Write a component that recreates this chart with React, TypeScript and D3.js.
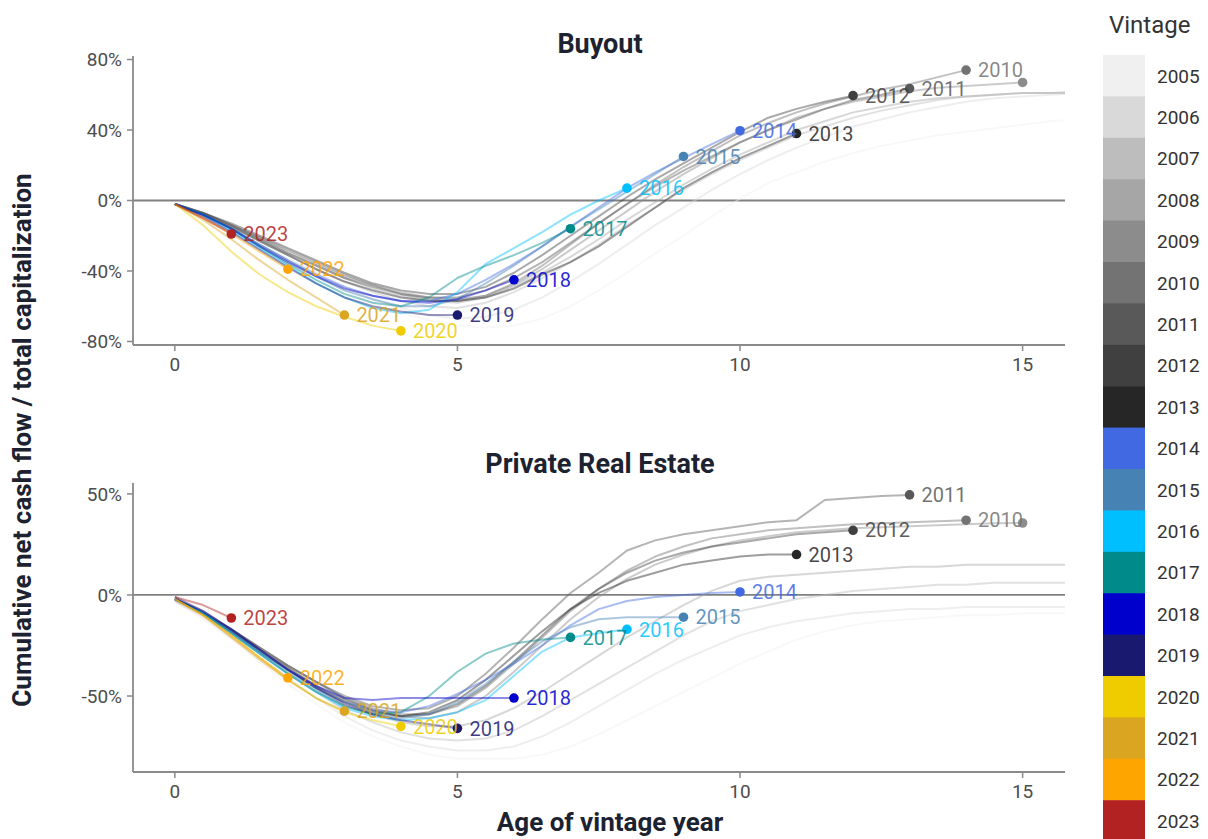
import React from "react";
import * as d3 from "d3";

// ---------- data ----------
const vintages = [2005, 2006, 2007, 2008, 2009, 2010, 2011, 2012, 2013, 2014, 2015, 2016, 2017, 2018, 2019, 2020, 2021, 2022, 2023];
const vintageColors = [
  "#f0f0f0", "#d9d9d9", "#bdbdbd", "#a6a6a6", "#8c8c8c", "#737373", "#595959", "#404040", "#262626",
  "#4169e1", "#4682b4", "#00bfff", "#008b8b", "#0000cd", "#191970", "#eecc00", "#daa520", "#ffa500", "#b22222",
];
const labeledVintages = [2010, 2011, 2012, 2013, 2014, 2015, 2016, 2017, 2018, 2019, 2020, 2021, 2022, 2023];
// sample ages (years since vintage), half-year steps
const ages = [0, 0.5, 1, 1.5, 2, 2.5, 3, 3.5, 4, 4.5, 5, 5.5, 6, 6.5, 7, 7.5, 8, 8.5, 9, 9.5, 10, 10.5, 11, 11.5, 12, 12.5, 13, 13.5, 14, 14.5, 15, 15.5, 16];
const xTicks = [0, 5, 10, 15];
const buyoutYTicks = [80, 40, 0, -40, -80];
const realEstateYTicks = [50, 0, -50];

// Buyout: cumulative net cash flow / total capitalization (%)
const bo2005 = [-2, -9, -17, -26, -35, -43, -51, -58, -64, -68, -71, -72, -71, -67, -60, -51, -41, -30, -20, -9, 1, 10, 16, 22, 27, 31, 34, 37, 39, 41, 43, 45, 46];
const bo2006 = [-2, -8, -16, -25, -33, -41, -49, -56, -61, -65, -67, -66, -62, -55, -46, -36, -25, -14, -4, 6, 15, 23, 30, 36, 42, 46, 50, 53, 56, 58, 59, 60, 61];
const bo2007 = [-2, -8, -15, -23, -31, -39, -46, -52, -57, -60, -61, -58, -52, -44, -35, -25, -14, -4, 6, 15, 23, 30, 37, 42, 47, 51, 54, 57, 59, 60, 61, 61, 62];
const bo2008 = [-2, -7, -14, -22, -30, -37, -44, -50, -54, -57, -58, -55, -49, -41, -32, -22, -11, -1, 9, 18, 26, 33, 40, 45, 50, 53, 56, 58, 59, 60, 61, 61, 61];
const bo2009 = [-2, -7, -14, -21, -29, -36, -43, -48, -52, -55, -56, -54, -48, -39, -28, -17, -6, 5, 15, 24, 33, 40, 47, 52, 56, 59, 62, 64, 65, 66, 67];
const bo2010 = [-2, -7, -14, -21, -28, -35, -42, -48, -53, -56, -57, -54, -47, -37, -25, -13, -2, 9, 19, 28, 37, 44, 50, 55, 59, 63, 66, 70, 74];
const bo2011 = [-2, -7, -14, -22, -30, -37, -44, -49, -53, -55, -55, -51, -44, -35, -24, -13, -2, 8, 17, 25, 33, 40, 46, 52, 57, 60, 63.5];
const bo2012 = [-2, -7, -13, -20, -27, -34, -41, -47, -51, -53, -53, -49, -41, -31, -20, -9, 2, 12, 21, 30, 39, 47, 52, 56, 59.5];
const bo2013 = [-2, -8, -15, -23, -31, -39, -46, -51, -55, -57, -57, -55, -50, -42, -35, -26, -15, -4, 7, 16, 24, 31, 38];
const bo2014 = [-2, -8, -16, -25, -34, -42, -49, -54, -57, -57, -53, -45, -36, -26, -15, -4, 7, 16, 24, 32, 39.6];
const bo2015 = [-2, -8, -16, -25, -34, -43, -51, -56, -60, -60, -56, -47, -37, -26, -15, -5, 5, 15, 25];
const bo2016 = [-2, -8, -17, -27, -37, -47, -55, -61, -64, -62, -52, -36, -27, -18, -8, 0, 7];
const bo2017 = [-2, -8, -16, -26, -36, -45, -53, -58, -60, -55, -44, -37, -31, -24, -16];
const bo2018 = [-2, -8, -16, -26, -35, -43, -50, -54, -57, -58, -56, -51, -45];
const bo2019 = [-2, -9, -18, -28, -38, -47, -55, -60, -63, -65, -65];
const bo2020 = [-2, -14, -29, -42, -52, -60, -66, -71, -74];
const bo2021 = [-2, -11, -22, -34, -45, -55, -65];
const bo2022 = [-2, -10, -19, -29, -39];
const bo2023 = [-2, -10, -19];
const buyoutValues = [bo2005, bo2006, bo2007, bo2008, bo2009, bo2010, bo2011, bo2012, bo2013, bo2014, bo2015, bo2016, bo2017, bo2018, bo2019, bo2020, bo2021, bo2022, bo2023];

// Private Real Estate
const re2005 = [-3, -12, -22, -33, -44, -54, -63, -70, -75, -79, -81, -81, -81, -79, -75, -69, -62, -55, -48, -41, -34, -28, -22, -18, -15, -13, -12, -11, -10, -10, -9, -9, -9];
const re2006 = [-3, -11, -21, -31, -41, -51, -60, -67, -72, -75, -77, -77, -75, -70, -63, -55, -47, -39, -32, -26, -20, -16, -13, -11, -9, -8, -7, -7, -6, -6, -6, -6, -6];
const re2007 = [-3, -10, -19, -29, -39, -48, -57, -63, -68, -71, -72, -71, -67, -60, -52, -44, -36, -28, -20, -13, -8, -5, -2, 0, 2, 3, 4, 5, 5, 6, 6, 6, 6];
const re2008 = [-2, -9, -18, -27, -36, -45, -53, -59, -63, -65, -65, -62, -56, -48, -39, -30, -21, -13, -5, 2, 7, 9, 10, 11, 12, 13, 14, 14, 15, 15, 15, 15, 15];
const re2009 = [-2, -9, -17, -26, -35, -43, -51, -57, -60, -61, -58, -50, -38, -25, -12, -1, 8, 15, 20, 24, 27, 29, 31, 32, 33, 33.5, 34, 34.5, 35, 35.5, 35.6];
const re2010 = [-2, -9, -17, -26, -35, -43, -51, -56, -59, -59, -55, -46, -34, -21, -8, 3, 12, 19, 24, 28, 30, 32, 33, 34, 35, 35.5, 36, 36.5, 37];
const re2011 = [-2, -9, -17, -26, -35, -43, -50, -55, -57, -56, -50, -39, -26, -12, 1, 11, 22, 27, 30, 32, 34, 36, 37, 47, 48, 49, 49.5];
const re2012 = [-2, -9, -18, -27, -36, -45, -52, -57, -60, -59, -54, -45, -33, -20, -7, 3, 11, 17, 21, 24, 26, 28, 30, 31, 32];
const re2013 = [-2, -9, -18, -28, -37, -46, -53, -58, -60, -58, -52, -42, -30, -18, -7, 1, 7, 11, 15, 17, 19, 20, 20];
const re2014 = [-2, -9, -18, -28, -37, -46, -53, -57, -58, -55, -49, -42, -34, -25, -15, -7, -3, -1, 0, 1, 1.5];
const re2015 = [-2, -9, -18, -28, -38, -47, -55, -59, -61, -59, -53, -44, -33, -23, -16, -12, -11, -11, -11];
const re2016 = [-2, -9, -19, -29, -39, -48, -56, -60, -62, -61, -58, -52, -40, -28, -21, -19, -17];
const re2017 = [-2, -9, -19, -29, -39, -48, -55, -59, -58, -50, -38, -29, -24, -22, -21];
const re2018 = [-2, -8, -17, -27, -37, -45, -51, -52, -51, -51, -51, -51, -51];
const re2019 = [-1, -8, -17, -27, -37, -46, -54, -59, -62, -64, -66];
const re2020 = [-2, -10, -20, -31, -42, -51, -58, -62, -65];
const re2021 = [-2, -10, -21, -32, -42, -51, -57.5];
const re2022 = [-2, -10, -20, -31, -41];
const re2023 = [-1, -5, -11.4];
const realEstateValues = [re2005, re2006, re2007, re2008, re2009, re2010, re2011, re2012, re2013, re2014, re2015, re2016, re2017, re2018, re2019, re2020, re2021, re2022, re2023];

// ---------- layout ----------
const W = 1208;
const H = 839;
const PLOT_LEFT = 133;
const PLOT_RIGHT = 1065;
const X_DOMAIN: [number, number] = [-0.74, 15.75];
const FONT = "Roboto, 'Noto Sans', Arial, sans-serif";
const TITLE_COLOR = "#1d2230";
const AXIS_COLOR = "#8a8a8a";
const TICK_TEXT = "#4d4d4d";

const xScale = d3.scaleLinear().domain(X_DOMAIN).range([PLOT_LEFT, PLOT_RIGHT]);

type PanelProps = {
  id: string;
  title: string;
  titleY: number;
  top: number;
  bottom: number;
  yDomain: [number, number];
  yTicks: number[];
  values: number[][];
};

function Panel({ id, title, titleY, top, bottom, yDomain, yTicks, values }: PanelProps) {
  const y = d3.scaleLinear().domain(yDomain).range([bottom, top]);
  const line = d3
    .line<number>()
    .x((_, i) => xScale(ages[i]))
    .y((d) => y(d));
  const clipId = `clip-${id}`;
  const maxX = X_DOMAIN[1];

  return (
    <g>
      <defs>
        <clipPath id={clipId}>
          <rect x={PLOT_LEFT} y={top - 10} width={PLOT_RIGHT - PLOT_LEFT} height={bottom - top + 10} />
        </clipPath>
      </defs>
      <text x={600} y={titleY} textAnchor="middle" fontFamily={FONT} fontWeight={700} fontSize={27} fill={TITLE_COLOR}>
        {title}
      </text>
      {/* zero line */}
      <line x1={PLOT_LEFT} x2={PLOT_RIGHT} y1={y(0)} y2={y(0)} stroke="#808080" strokeWidth={1.8} />
      {/* axes */}
      <line x1={PLOT_LEFT} x2={PLOT_LEFT} y1={top} y2={bottom} stroke={AXIS_COLOR} strokeWidth={1.8} />
      <line x1={PLOT_LEFT} x2={PLOT_RIGHT} y1={bottom} y2={bottom} stroke={AXIS_COLOR} strokeWidth={1.8} />
      {yTicks.map((t) => (
        <g key={`y${t}`}>
          <line x1={PLOT_LEFT - 6} x2={PLOT_LEFT} y1={y(t)} y2={y(t)} stroke={AXIS_COLOR} strokeWidth={1.5} />
          <text x={PLOT_LEFT - 11} y={y(t)} dy="0.35em" textAnchor="end" fontFamily={FONT} fontSize={19} fill={TICK_TEXT}>
            {`${t}%`}
          </text>
        </g>
      ))}
      {xTicks.map((t) => (
        <g key={`x${t}`}>
          <line x1={xScale(t)} x2={xScale(t)} y1={bottom} y2={bottom + 6} stroke={AXIS_COLOR} strokeWidth={1.5} />
          <text x={xScale(t)} y={bottom + 26} textAnchor="middle" fontFamily={FONT} fontSize={19} fill={TICK_TEXT}>
            {t}
          </text>
        </g>
      ))}
      {/* lines */}
      <g clipPath={`url(#${clipId})`}>
        {values.map((vals, i) => (
          <path
            key={`l${vintages[i]}`}
            d={line(vals) || ""}
            fill="none"
            stroke={vintageColors[i]}
            strokeWidth={2}
            strokeOpacity={0.45}
            strokeLinejoin="round"
          />
        ))}
      </g>
      {/* end points */}
      {values.map((vals, i) => {
        const endAge = ages[vals.length - 1];
        if (endAge > maxX) return null;
        const v = vals[vals.length - 1];
        return (
          <circle key={`p${vintages[i]}`} cx={xScale(endAge)} cy={y(v)} r={4.8} fill={vintageColors[i]} />
        );
      })}
      {values.map((vals, i) => {
        const endAge = ages[vals.length - 1];
        if (endAge > maxX || !labeledVintages.includes(vintages[i])) return null;
        const v = vals[vals.length - 1];
        return (
          <text
            key={`t${vintages[i]}`}
            x={xScale(endAge) + 12}
            y={y(v)}
            dy="0.36em"
            fontFamily={FONT}
            fontSize={20}
            fill={vintageColors[i]}
            fillOpacity={0.85}
          >
            {vintages[i]}
          </text>
        );
      })}
    </g>
  );
}

function Legend() {
  const top = 55;
  const step = 41.4;
  return (
    <g>
      <text x={1109} y={33} fontFamily={FONT} fontSize={24} fill="#333">
        Vintage
      </text>
      {vintages.map((v, i) => (
        <g key={`lg${v}`}>
          <rect x={1103} y={top + i * step} width={42} height={step + 0.6} fill={vintageColors[i]} />
          <text x={1157} y={top + i * step + step / 2} dy="0.36em" fontFamily={FONT} fontSize={19} fill="#333">
            {v}
          </text>
        </g>
      ))}
    </g>
  );
}

export default function App() {
  return (
    <svg
      width={W}
      height={H}
      viewBox={`0 0 ${W} ${H}`}
      style={{ position: "absolute", left: 0, top: 0, background: "#fff" }}
    >
      <rect x={0} y={0} width={W} height={H} fill="#fff" />
      <Panel
        id="buyout"
        title="Buyout"
        titleY={53}
        top={56}
        bottom={345}
        yDomain={[-82, 82]}
        yTicks={buyoutYTicks}
        values={buyoutValues}
      />
      <Panel
        id="re"
        title="Private Real Estate"
        titleY={473}
        top={483}
        bottom={772}
        yDomain={[-87.6, 55.4]}
        yTicks={realEstateYTicks}
        values={realEstateValues}
      />
      <text
        transform={`translate(31, 440) rotate(-90)`}
        textAnchor="middle"
        fontFamily={FONT}
        fontWeight={700}
        fontSize={26}
        fill={TITLE_COLOR}
      >
        Cumulative net cash flow / total capitalization
      </text>
      <text x={610} y={831} textAnchor="middle" fontFamily={FONT} fontWeight={700} fontSize={26} fill={TITLE_COLOR}>
        Age of vintage year
      </text>
      <Legend />
    </svg>
  );
}
